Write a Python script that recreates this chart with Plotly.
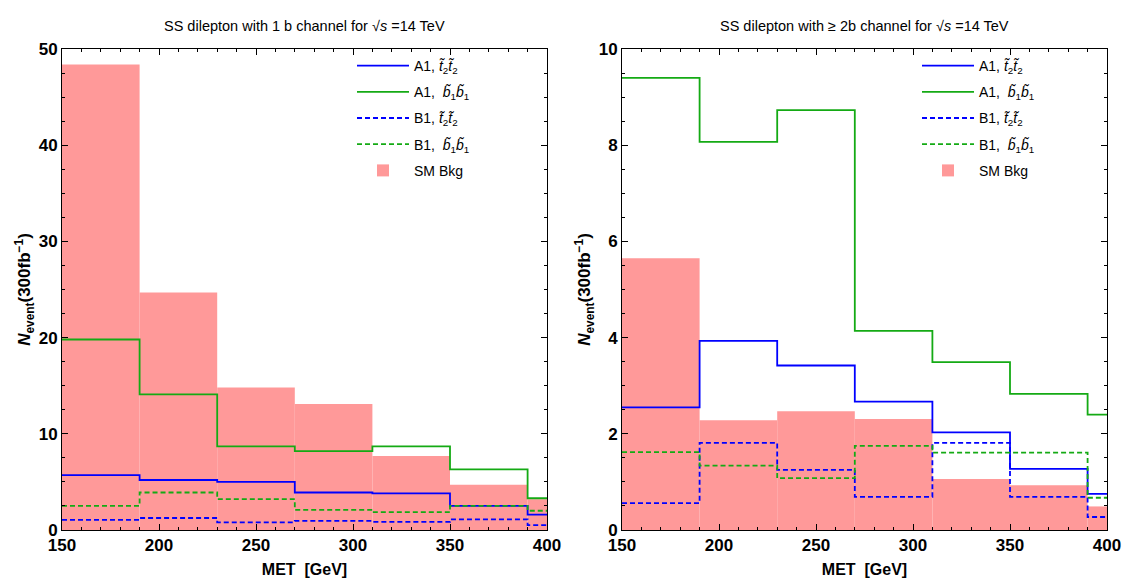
import plotly.graph_objects as go
from plotly.subplots import make_subplots

# bin edges (last bin clipped at 400)
edges = [150, 190, 230, 270, 310, 350, 390, 400]

# Left panel: 1 b channel
L_bkg = [48.4, 24.7, 14.8, 13.1, 7.7, 4.7, 3.2]
L_A1_t2 = [5.7, 5.2, 5.0, 3.9, 3.8, 2.5, 1.6]
L_A1_b1 = [19.8, 14.1, 8.7, 8.2, 8.7, 6.3, 3.3]
L_B1_t2 = [1.05, 1.25, 0.8, 0.95, 0.85, 1.1, 0.5]
L_B1_b1 = [2.5, 3.9, 3.2, 2.1, 1.85, 2.5, 2.0]

# Right panel: >= 2b channel
R_bkg = [5.65, 2.28, 2.47, 2.31, 1.06, 0.93, 0.49]
R_A1_t2 = [2.55, 3.93, 3.42, 2.67, 2.03, 1.27, 0.75]
R_A1_b1 = [9.4, 8.07, 8.73, 4.14, 3.49, 2.83, 2.4]
R_B1_t2 = [0.56, 1.81, 1.25, 0.69, 1.81, 0.69, 0.27]
R_B1_b1 = [1.62, 1.34, 1.08, 1.75, 1.61, 1.61, 0.67]

names = ["A1, <i>t̃</i><sub>2</sub><i>t̃</i><sub>2</sub>",
         "A1,  <i>b̃</i><sub>1</sub><i>b̃</i><sub>1</sub>",
         "B1, <i>t̃</i><sub>2</sub><i>t̃</i><sub>2</sub>",
         "B1,  <i>b̃</i><sub>1</sub><i>b̃</i><sub>1</sub>",
         "SM Bkg"]

BLUE = "rgb(0,0,255)"
GREEN = "rgb(20,170,20)"
PINK = "rgb(255,153,153)"
FONT = "Liberation Sans, Arial, sans-serif"

fig = make_subplots(rows=1, cols=2)

def add_panel(col, bkg, a1t, a1b, b1t, b1b, legend):
    widths = [edges[i + 1] - edges[i] for i in range(len(edges) - 1)]
    fig.add_trace(go.Bar(x=edges[:-1], y=bkg, width=widths, offset=0,
                         marker=dict(color=PINK, line=dict(width=0)),
                         name=names[4], legend=legend, legendgroup="e" + legend,
                         legendrank=5), row=1, col=col)
    series = [(a1t, BLUE, "solid"), (a1b, GREEN, "solid"),
              (b1t, BLUE, "5px,3px"), (b1b, GREEN, "5px,3px")]
    for i, (vals, c, d) in enumerate(series):
        fig.add_trace(go.Scatter(x=edges, y=list(vals) + [vals[-1]], mode="lines",
                                 line=dict(color=c, width=1.8, dash=d, shape="hv"),
                                 name=names[i], legend=legend,
                                 legendgroup=str(i) + legend, legendrank=i + 1),
                      row=1, col=col)

add_panel(1, L_bkg, L_A1_t2, L_A1_b1, L_B1_t2, L_B1_b1, "legend")
add_panel(2, R_bkg, R_A1_t2, R_A1_b1, R_B1_t2, R_B1_b1, "legend2")

W, H = 1131, 578
x0L, x1L, x0R, x1R = 62, 547, 622, 1107
ytop, ybot = 49, 530

axis_common = dict(showline=True, linecolor="black", linewidth=1, mirror="allticks",
                   ticks="inside", ticklen=6, tickcolor="black", showgrid=False,
                   zeroline=False, automargin=False,
                   tickfont=dict(family=FONT, size=17, color="black", weight="bold"))

fig.update_xaxes(**axis_common, range=[150, 400], dtick=50, tick0=150,
                 minor=dict(ticks="inside", ticklen=3, dtick=10, tickcolor="black"),
                 title=dict(text="<b>MET  [GeV]</b>", font=dict(family=FONT, size=16, color="black"),
                            standoff=13))
fig.update_xaxes(domain=[x0L / W, x1L / W], row=1, col=1)
fig.update_xaxes(domain=[x0R / W, x1R / W], row=1, col=2)

ytitle = "<b><i>N</i><sub>event</sub>(300fb<sup>−1</sup>)</b>"
fig.update_yaxes(**axis_common, domain=[1 - ybot / H, 1 - ytop / H],
                 title=dict(text=ytitle, font=dict(family=FONT, size=17, color="black"),
                            standoff=3))
fig.update_yaxes(range=[0, 50], dtick=10,
                 minor=dict(ticks="inside", ticklen=3, dtick=2.5, tickcolor="black"),
                 row=1, col=1)
fig.update_yaxes(range=[0, 10], dtick=2,
                 minor=dict(ticks="inside", ticklen=3, dtick=0.5, tickcolor="black"),
                 row=1, col=2)

leg = dict(bgcolor="rgba(0,0,0,0)", borderwidth=0, tracegroupgap=5,
           font=dict(family=FONT, size=14, color="black"),
           xanchor="left", yanchor="top", itemwidth=52)
fig.update_layout(
    width=W, height=H, margin=dict(l=0, r=0, t=0, b=0),
    plot_bgcolor="white", paper_bgcolor="white", showlegend=True, barmode="overlay",
    legend=dict(**leg, x=352 / W, y=1 - 50 / H),
    legend2=dict(**leg, x=917 / W, y=1 - 50 / H),
    annotations=[
        dict(text="SS dilepton with 1 b channel for √<i>s</i> =14 TeV", x=(x0L + x1L) / 2 / W,
             y=1 - 26 / H, xref="paper", yref="paper", showarrow=False, xanchor="center",
             yanchor="middle", font=dict(family=FONT, size=14.5, color="black")),
        dict(text="SS dilepton with ≥ 2b channel for √<i>s</i> =14 TeV", x=(x0R + x1R) / 2 / W,
             y=1 - 26 / H, xref="paper", yref="paper", showarrow=False, xanchor="center",
             yanchor="middle", font=dict(family=FONT, size=14.5, color="black")),
    ],
)

fig.write_html("out.html")
